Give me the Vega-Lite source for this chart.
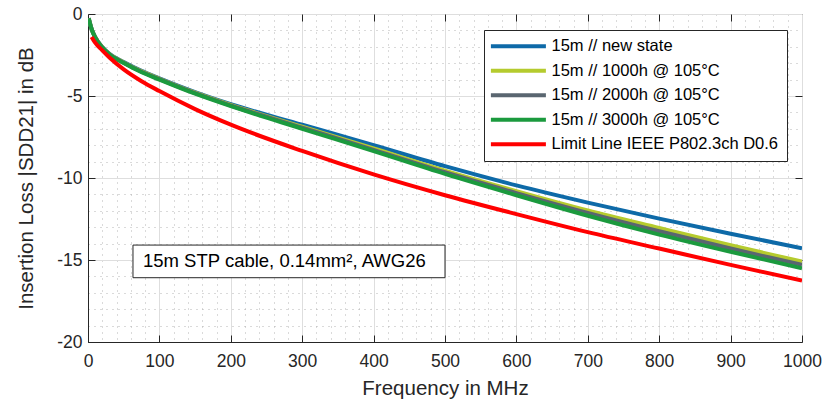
{
  "$schema": "https://vega.github.io/schema/vega-lite/v6.json",
  "width": 714,
  "height": 328,
  "autosize": {"type": "none"},
  "padding": {"left": 88, "top": 14, "right": 29, "bottom": 63},
  "background": "white",
  "config": {
    "font": "Liberation Sans",
    "view": {"stroke": "#262626", "strokeWidth": 1}
  },
  "layer": [
    {
      "data": {"values": [
        {"series": "15m // new state", "f": 1, "il": -0.25},
        {"series": "15m // new state", "f": 3, "il": -0.6},
        {"series": "15m // new state", "f": 5, "il": -0.9},
        {"series": "15m // new state", "f": 10, "il": -1.4},
        {"series": "15m // new state", "f": 20, "il": -2.02},
        {"series": "15m // new state", "f": 30, "il": -2.43},
        {"series": "15m // new state", "f": 50, "il": -2.93},
        {"series": "15m // new state", "f": 75, "il": -3.47},
        {"series": "15m // new state", "f": 100, "il": -3.92},
        {"series": "15m // new state", "f": 150, "il": -4.76},
        {"series": "15m // new state", "f": 200, "il": -5.5},
        {"series": "15m // new state", "f": 300, "il": -6.75},
        {"series": "15m // new state", "f": 400, "il": -8.0},
        {"series": "15m // new state", "f": 500, "il": -9.28},
        {"series": "15m // new state", "f": 600, "il": -10.45},
        {"series": "15m // new state", "f": 700, "il": -11.5},
        {"series": "15m // new state", "f": 800, "il": -12.48},
        {"series": "15m // new state", "f": 900, "il": -13.4},
        {"series": "15m // new state", "f": 1000, "il": -14.28},
        {"series": "15m // 1000h @ 105°C", "f": 1, "il": -0.25},
        {"series": "15m // 1000h @ 105°C", "f": 3, "il": -0.6},
        {"series": "15m // 1000h @ 105°C", "f": 5, "il": -0.9},
        {"series": "15m // 1000h @ 105°C", "f": 10, "il": -1.41},
        {"series": "15m // 1000h @ 105°C", "f": 20, "il": -2.03},
        {"series": "15m // 1000h @ 105°C", "f": 30, "il": -2.44},
        {"series": "15m // 1000h @ 105°C", "f": 50, "il": -2.95},
        {"series": "15m // 1000h @ 105°C", "f": 75, "il": -3.5},
        {"series": "15m // 1000h @ 105°C", "f": 100, "il": -3.95},
        {"series": "15m // 1000h @ 105°C", "f": 150, "il": -4.8},
        {"series": "15m // 1000h @ 105°C", "f": 200, "il": -5.55},
        {"series": "15m // 1000h @ 105°C", "f": 300, "il": -6.87},
        {"series": "15m // 1000h @ 105°C", "f": 400, "il": -8.2},
        {"series": "15m // 1000h @ 105°C", "f": 500, "il": -9.55},
        {"series": "15m // 1000h @ 105°C", "f": 600, "il": -10.8},
        {"series": "15m // 1000h @ 105°C", "f": 700, "il": -11.98},
        {"series": "15m // 1000h @ 105°C", "f": 800, "il": -13.05},
        {"series": "15m // 1000h @ 105°C", "f": 900, "il": -14.1},
        {"series": "15m // 1000h @ 105°C", "f": 1000, "il": -15.1},
        {"series": "15m // 2000h @ 105°C", "f": 1, "il": -0.26},
        {"series": "15m // 2000h @ 105°C", "f": 3, "il": -0.61},
        {"series": "15m // 2000h @ 105°C", "f": 5, "il": -0.91},
        {"series": "15m // 2000h @ 105°C", "f": 10, "il": -1.42},
        {"series": "15m // 2000h @ 105°C", "f": 20, "il": -2.04},
        {"series": "15m // 2000h @ 105°C", "f": 30, "il": -2.45},
        {"series": "15m // 2000h @ 105°C", "f": 50, "il": -2.97},
        {"series": "15m // 2000h @ 105°C", "f": 75, "il": -3.52},
        {"series": "15m // 2000h @ 105°C", "f": 100, "il": -3.97},
        {"series": "15m // 2000h @ 105°C", "f": 150, "il": -4.83},
        {"series": "15m // 2000h @ 105°C", "f": 200, "il": -5.58},
        {"series": "15m // 2000h @ 105°C", "f": 300, "il": -6.93},
        {"series": "15m // 2000h @ 105°C", "f": 400, "il": -8.28},
        {"series": "15m // 2000h @ 105°C", "f": 500, "il": -9.65},
        {"series": "15m // 2000h @ 105°C", "f": 600, "il": -10.92},
        {"series": "15m // 2000h @ 105°C", "f": 700, "il": -12.13},
        {"series": "15m // 2000h @ 105°C", "f": 800, "il": -13.25},
        {"series": "15m // 2000h @ 105°C", "f": 900, "il": -14.3},
        {"series": "15m // 2000h @ 105°C", "f": 1000, "il": -15.3},
        {"series": "15m // 3000h @ 105°C", "f": 1, "il": -0.27},
        {"series": "15m // 3000h @ 105°C", "f": 3, "il": -0.62},
        {"series": "15m // 3000h @ 105°C", "f": 5, "il": -0.92},
        {"series": "15m // 3000h @ 105°C", "f": 10, "il": -1.43},
        {"series": "15m // 3000h @ 105°C", "f": 20, "il": -2.05},
        {"series": "15m // 3000h @ 105°C", "f": 30, "il": -2.47},
        {"series": "15m // 3000h @ 105°C", "f": 50, "il": -2.99},
        {"series": "15m // 3000h @ 105°C", "f": 75, "il": -3.55},
        {"series": "15m // 3000h @ 105°C", "f": 100, "il": -4.0},
        {"series": "15m // 3000h @ 105°C", "f": 150, "il": -4.86},
        {"series": "15m // 3000h @ 105°C", "f": 200, "il": -5.62},
        {"series": "15m // 3000h @ 105°C", "f": 300, "il": -7.0},
        {"series": "15m // 3000h @ 105°C", "f": 400, "il": -8.36},
        {"series": "15m // 3000h @ 105°C", "f": 500, "il": -9.75},
        {"series": "15m // 3000h @ 105°C", "f": 600, "il": -11.05},
        {"series": "15m // 3000h @ 105°C", "f": 700, "il": -12.3},
        {"series": "15m // 3000h @ 105°C", "f": 800, "il": -13.45},
        {"series": "15m // 3000h @ 105°C", "f": 900, "il": -14.5},
        {"series": "15m // 3000h @ 105°C", "f": 1000, "il": -15.5},
        {"series": "Limit Line IEEE P802.3ch D0.6", "f": 5, "il": -1.4},
        {"series": "Limit Line IEEE P802.3ch D0.6", "f": 10, "il": -1.75},
        {"series": "Limit Line IEEE P802.3ch D0.6", "f": 20, "il": -2.22},
        {"series": "Limit Line IEEE P802.3ch D0.6", "f": 30, "il": -2.65},
        {"series": "Limit Line IEEE P802.3ch D0.6", "f": 50, "il": -3.38},
        {"series": "Limit Line IEEE P802.3ch D0.6", "f": 75, "il": -4.1},
        {"series": "Limit Line IEEE P802.3ch D0.6", "f": 100, "il": -4.7},
        {"series": "Limit Line IEEE P802.3ch D0.6", "f": 150, "il": -5.8},
        {"series": "Limit Line IEEE P802.3ch D0.6", "f": 200, "il": -6.75},
        {"series": "Limit Line IEEE P802.3ch D0.6", "f": 300, "il": -8.35},
        {"series": "Limit Line IEEE P802.3ch D0.6", "f": 400, "il": -9.78},
        {"series": "Limit Line IEEE P802.3ch D0.6", "f": 500, "il": -11.05},
        {"series": "Limit Line IEEE P802.3ch D0.6", "f": 600, "il": -12.2},
        {"series": "Limit Line IEEE P802.3ch D0.6", "f": 700, "il": -13.3},
        {"series": "Limit Line IEEE P802.3ch D0.6", "f": 800, "il": -14.3},
        {"series": "Limit Line IEEE P802.3ch D0.6", "f": 900, "il": -15.3},
        {"series": "Limit Line IEEE P802.3ch D0.6", "f": 1000, "il": -16.25}
      ]},
      "mark": {"type": "line", "strokeWidth": 4, "clip": true, "interpolate": "monotone"},
      "encoding": {
        "x": {
          "field": "f", "type": "quantitative",
          "scale": {"domain": [0, 1000], "nice": false, "zero": false},
          "axis": {
            "orient": "bottom",
            "values": [0,20,40,60,80,100,120,140,160,180,200,220,240,260,280,300,320,340,360,380,400,420,440,460,480,500,520,540,560,580,600,620,640,660,680,700,720,740,760,780,800,820,840,860,880,900,920,940,960,980,1000],
            "title": "Frequency in MHz",
            "titleFontSize": 20.5, "titleFontWeight": "normal", "titleColor": "#262626", "titlePadding": 9,
            "labelFontSize": 17.5, "labelColor": "#262626", "labelPadding": 17,
            "labelExpr": "datum.value % 100 === 0 ? '' + datum.value : ''",
            "labelOverlap": false, "labelFlush": false, "labelBound": false,
            "tickSize": -7, "tickColor": "#262626",
            "tickOpacity": {"condition": {"test": "datum.value % 100 === 0", "value": 1}, "value": 0},
            "grid": true, "gridWidth": 1,
            "gridColor": {"condition": {"test": "datum.value % 100 === 0", "value": "#dedede"}, "value": "#b4b4b4"},
            "gridDash": {"condition": {"test": "datum.value % 100 === 0", "value": []}, "value": [1, 5]},
            "domainColor": "#262626"
          }
        },
        "y": {
          "field": "il", "type": "quantitative",
          "scale": {"domain": [-20, 0], "nice": false, "zero": false},
          "axis": {
            "orient": "left",
            "values": [-20,-19,-18,-17,-16,-15,-14,-13,-12,-11,-10,-9,-8,-7,-6,-5,-4,-3,-2,-1,0],
            "title": "Insertion Loss |SDD21| in dB",
            "titleFontSize": 20.5, "titleFontWeight": "normal", "titleColor": "#262626", "titlePadding": 20,
            "labelFontSize": 17.5, "labelColor": "#262626", "labelPadding": 13,
            "labelExpr": "datum.value % 5 === 0 ? '' + datum.value : ''",
            "labelOverlap": false, "labelFlush": false, "labelBound": false,
            "tickSize": -7, "tickColor": "#262626",
            "tickOpacity": {"condition": {"test": "datum.value % 5 === 0", "value": 1}, "value": 0},
            "grid": true, "gridWidth": 1,
            "gridColor": {"condition": {"test": "datum.value % 5 === 0", "value": "#dedede"}, "value": "#b4b4b4"},
            "gridDash": {"condition": {"test": "datum.value % 5 === 0", "value": []}, "value": [1, 5]},
            "domainColor": "#262626"
          }
        },
        "color": {
          "field": "series", "type": "nominal",
          "scale": {
            "domain": ["15m // new state", "15m // 1000h @ 105°C", "15m // 2000h @ 105°C", "15m // 3000h @ 105°C", "Limit Line IEEE P802.3ch D0.6"],
            "range": ["#0e6aa8", "#b5cb2e", "#5a6670", "#1b9a3e", "#ff0000"]
          },
          "legend": {
            "orient": "none", "legendX": 396, "legendY": 16,
            "title": null,
            "symbolType": "M-1.7,0H8.3", "symbolSize": 121, "symbolStrokeWidth": 4,
            "labelFontSize": 16.5, "labelColor": "#000000", "labelOffset": 43, "labelLimit": 400,
            "padding": 8, "rowPadding": 7.5,
            "fillColor": "white", "strokeColor": "#262626", "cornerRadius": 0
          }
        }
      }
    },
    {
      "data": {"values": [{}]},
      "mark": {"type": "rect", "fill": "white", "stroke": "#262626", "strokeWidth": 1},
      "encoding": {
        "x": {
          "datum": 63, "type": "quantitative",
          "scale": {"domain": [0, 1000], "nice": false, "zero": false},
          "axis": {
            "orient": "top", "values": [100,200,300,400,500,600,700,800,900],
            "labels": false, "ticks": true, "tickSize": -7, "tickColor": "#262626",
            "domain": false, "grid": false, "title": null
          }
        },
        "x2": {"datum": 500},
        "y": {
          "datum": -14.09, "type": "quantitative",
          "scale": {"domain": [-20, 0], "nice": false, "zero": false},
          "axis": {
            "orient": "right", "values": [-15,-10,-5],
            "labels": false, "ticks": true, "tickSize": -7, "tickColor": "#262626",
            "domain": false, "grid": false, "title": null
          }
        },
        "y2": {"datum": -16.08}
      }
    },
    {
      "data": {"values": [{}]},
      "mark": {"type": "text", "text": "15m STP cable, 0.14mm², AWG26", "align": "left", "baseline": "middle", "fontSize": 18.5, "color": "#000000"},
      "encoding": {
        "x": {"datum": 77, "type": "quantitative", "axis": null},
        "y": {"datum": -15.06, "type": "quantitative", "axis": null}
      }
    }
  ],
  "resolve": {"axis": {"x": "independent", "y": "independent"}}
}
